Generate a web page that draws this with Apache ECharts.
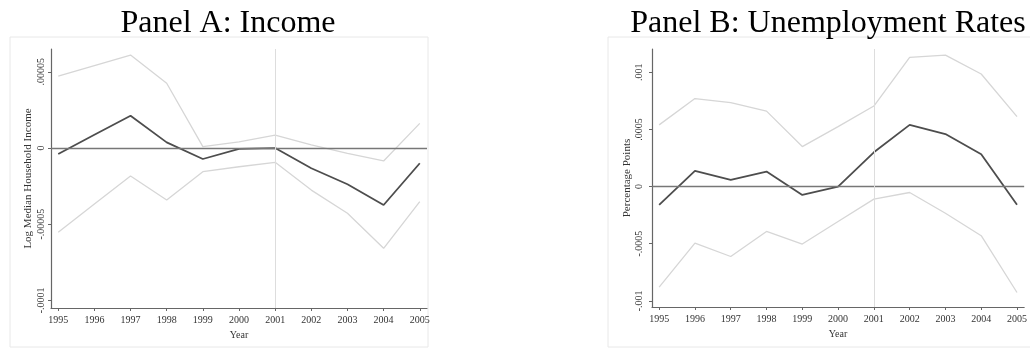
<!DOCTYPE html>
<html>
<head>
<meta charset="utf-8">
<script src="https://cdn.jsdelivr.net/npm/echarts@6/dist/echarts.min.js"></script>
<style>
  html, body { margin: 0; padding: 0; background: #fff; }
  #chart { width: 1030px; height: 348px; }
</style>
</head>
<body>
<div id="chart"></div>
<script>
// years on the x axis
const years = [1995, 1996, 1997, 1998, 1999, 2000, 2001, 2002, 2003, 2004, 2005];

// Panel A: log median household income (point estimate and CI bounds)
const incomeEst   = [-0.0000039, 0.0000087, 0.0000212, 0.0000037, -0.0000072, -0.0000005, 0.0000000, -0.0000133, -0.0000238, -0.0000374, -0.0000100];
const incomeUpper = [0.0000472, 0.0000541, 0.0000610, 0.0000425, 0.0000009, 0.0000041, 0.0000085, 0.0000020, -0.0000035, -0.0000085, 0.0000162];
const incomeLower = [-0.0000553, -0.0000367, -0.0000184, -0.0000341, -0.0000155, -0.0000123, -0.0000094, -0.0000276, -0.0000428, -0.0000658, -0.0000352];

// Panel B: unemployment rates (percentage points)
const unempEst   = [-0.000160, 0.000137, 0.000059, 0.000131, -0.000073, 0.000000, 0.000300, 0.000540, 0.000460, 0.000283, -0.000160];
const unempUpper = [0.000540, 0.000770, 0.000734, 0.000660, 0.000350, 0.000525, 0.000705, 0.001130, 0.001150, 0.000985, 0.000612];
const unempLower = [-0.000880, -0.000495, -0.000612, -0.000393, -0.000503, -0.000306, -0.000110, -0.000052, -0.000233, -0.000430, -0.000927];

// tick values and their labels
const incomeTicks  = [-0.0001, -0.00005, 0, 0.00005];
const incomeLabels = ["-.0001", "-.00005", "0", ".00005"];
const unempTicks   = [-0.001, -0.0005, 0, 0.0005, 0.001];
const unempLabels  = ["-.001", "-.0005", "0", ".0005", ".001"];

const serif = "Liberation Serif";
const chart = echarts.init(document.getElementById("chart"));

function pairs(vals) {
  return years.map((y, i) => [y, vals[i]]);
}
function tickLabel(ticks, labels) {
  return function (v) {
    let best = 0;
    ticks.forEach((t, i) => {
      if (Math.abs(t - v) < Math.abs(ticks[best] - v)) best = i;
    });
    return labels[best];
  };
}

function xAxisFor(gridIndex) {
  return {
    type: "value",
    gridIndex: gridIndex,
    min: 1994.8,
    max: 2005.2,
    name: "Year",
    nameLocation: "middle",
    nameGap: 18,
    nameTextStyle: { fontFamily: serif, fontSize: 10, color: "#333" },
    axisLine: { onZero: false, lineStyle: { color: "#666", width: 1.2 } },
    axisTick: { customValues: years, length: 3, lineStyle: { color: "#666" } },
    axisLabel: {
      customValues: years,
      margin: 7,
      fontFamily: serif,
      fontSize: 10,
      color: "#333",
      formatter: (v) => String(v),
    },
    splitLine: { show: false },
  };
}

function yAxisFor(gridIndex, min, max, ticks, labels, name, margin, gap) {
  return {
    type: "value",
    gridIndex: gridIndex,
    min: min,
    max: max,
    name: name,
    nameLocation: "middle",
    nameGap: gap,
    nameTextStyle: { fontFamily: serif, fontSize: 11, color: "#333" },
    axisLine: { show: true, onZero: false, lineStyle: { color: "#666", width: 1.2 } },
    axisTick: { show: true, customValues: ticks, length: 3, lineStyle: { color: "#666" } },
    axisLabel: {
      customValues: ticks,
      rotate: 90,
      margin: margin,
      fontFamily: serif,
      fontSize: 10,
      color: "#333",
      formatter: tickLabel(ticks, labels),
    },
    splitLine: { show: false },
  };
}

function lineSeries(idx, vals, color, width, marks) {
  const s = {
    type: "line",
    xAxisIndex: idx,
    yAxisIndex: idx,
    data: pairs(vals),
    symbol: "none",
    lineStyle: { color: color, width: width },
    z: width > 1.6 ? 4 : 3,
  };
  if (marks) {
    s.markLine = {
      silent: true,
      symbol: "none",
      label: { show: false },
      data: [
        { yAxis: 0, lineStyle: { color: "#777", width: 1.4, type: "solid" } },
        { xAxis: 2001, lineStyle: { color: "#dddddd", width: 1, type: "solid" } },
      ],
    };
  }
  return s;
}

chart.setOption({
  animation: false,
  backgroundColor: "#fff",
  title: [
    {
      text: "Panel A: Income",
      left: 223,
      top: 3,
      textAlign: "center",
      textStyle: { fontFamily: serif, fontSize: 32, fontWeight: "normal", color: "#000" },
    },
    {
      text: "Panel B: Unemployment Rates",
      left: 823,
      top: 3,
      textAlign: "center",
      textStyle: { fontFamily: serif, fontSize: 32, fontWeight: "normal", color: "#000" },
    },
  ],
  graphic: [
    { type: "rect", shape: { x: 10, y: 37, width: 418, height: 310 }, style: { fill: "none", stroke: "#e8e8e8", lineWidth: 1 }, z: -1 },
    { type: "rect", shape: { x: 608, y: 37, width: 440, height: 310 }, style: { fill: "none", stroke: "#e8e8e8", lineWidth: 1 }, z: -1 },
  ],
  grid: [
    { left: 51, top: 49, width: 376, height: 259 },
    { left: 652, top: 49, width: 375, height: 258 },
  ],
  xAxis: [xAxisFor(0), xAxisFor(1)],
  yAxis: [
    yAxisFor(0, -0.000105, 0.000065, incomeTicks, incomeLabels, "Log Median Household Income", 5, 17),
    yAxisFor(1, -0.001054, 0.001204, unempTicks, unempLabels, "Percentage Points", 8, 19),
  ],
  series: [
    lineSeries(0, incomeUpper, "#d6d6d6", 1.3, false),
    lineSeries(0, incomeLower, "#d6d6d6", 1.3, false),
    lineSeries(0, incomeEst, "#4d4d4d", 1.8, true),
    lineSeries(1, unempUpper, "#d6d6d6", 1.3, false),
    lineSeries(1, unempLower, "#d6d6d6", 1.3, false),
    lineSeries(1, unempEst, "#4d4d4d", 1.8, true),
  ],
});
</script>
</body>
</html>
